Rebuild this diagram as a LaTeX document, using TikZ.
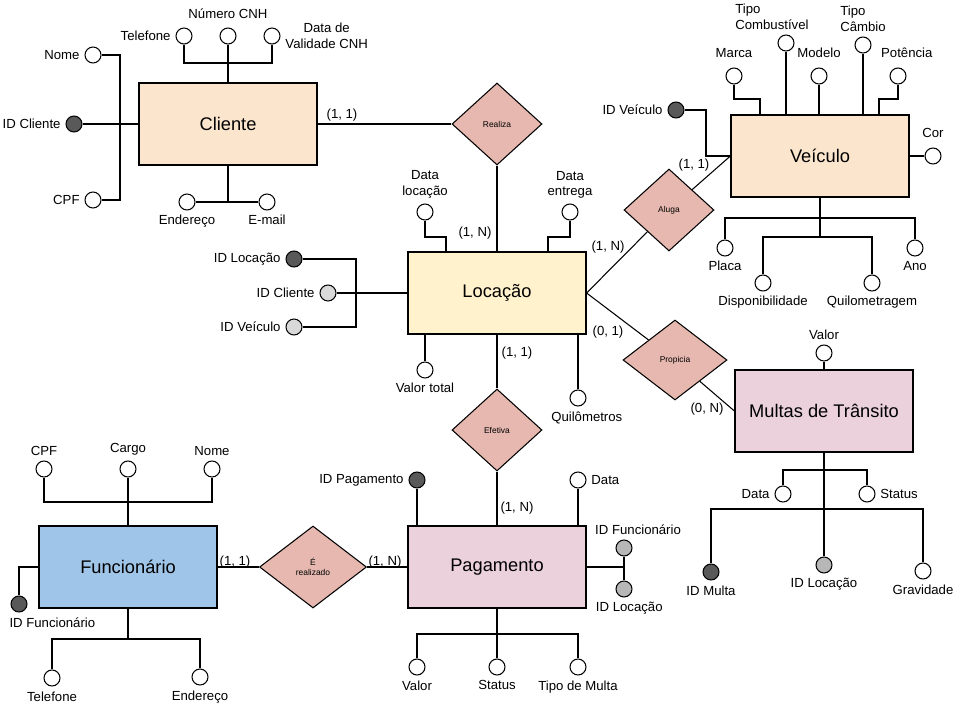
\documentclass[tikz,border=0pt]{standalone}
\usepackage{fontspec}
\setmainfont{Liberation Sans}
\usetikzlibrary{shapes.geometric,calc}

\definecolor{entpeach}{HTML}{FCE5CD}
\definecolor{entyellow}{HTML}{FFF2CC}
\definecolor{entpink}{HTML}{EAD1DC}
\definecolor{entblue}{HTML}{9FC5E8}
\definecolor{relrose}{HTML}{E6B8AF}
\definecolor{keydark}{HTML}{595959}
\definecolor{keylight}{HTML}{D9D9D9}
\definecolor{keymid}{HTML}{B7B7B7}

\tikzset{
  entity/.style={draw, line width=0.7pt, minimum width=3.56cm, minimum height=1.64cm, inner sep=0pt, font=\fontsize{10.4}{12}\selectfont},
  relation/.style={diamond, draw, fill=relrose, minimum width=1.8cm, minimum height=1.64cm, inner sep=0pt, align=center, font=\fontsize{4.8}{5.5}\selectfont},
  attr/.style={circle, draw, fill=white, minimum size=0.32cm, inner sep=0pt},
  pkey/.style={attr, fill=keydark},
  fkey/.style={attr, fill=keylight},
  fkeymid/.style={attr, fill=keymid},
  card/.style={inner sep=0pt, font=\fontsize{7.5}{9}\selectfont},
  every label/.style={inner sep=1.5pt, align=center, font=\fontsize{7.5}{9}\selectfont},
  label distance=1pt,
}

\begin{document}
\begin{tikzpicture}[x=0.02cm, y=-0.02cm, line width=0.6pt]
	\useasboundingbox (0,0) rectangle (960,720);
	
	% Cliente
	\node[entity, fill=entpeach] (cliente) at (228,124) {Cliente};
	\node[pkey, label=left:ID Cliente] (idcli) at (74,124) {};
	\node[attr, label=left:Nome] (nomecli) at (93,55) {};
	\node[attr, label=left:CPF] (cpfcli) at (93,200) {};
	\node[attr, label=left:Telefone] (telcli) at (184,36) {};
	\node[attr, label={[yshift=2pt]above:Número CNH}] (cnhcli) at (228,36) {};
	\node[attr, label={right:Data de\\Validade CNH}] (valcli) at (272,36) {};
	\node[attr, label=below:Endereço] (endcli) at (187,202) {};
	\node[attr, label=below:E-mail] (mailcli) at (267,202) {};
	\coordinate (cli-l) at (120,124);
	\coordinate (cli-t) at (228,63);
	\draw (nomecli.east) -| (cli-l) |- (cpfcli.east);
	\draw (idcli.east) -- (cliente.west);
	\draw (telcli.south) |- (cli-t) -| (valcli.south);
	\draw (cnhcli.south) -- (cliente.north);
	\draw (cliente.south) |- (endcli.east);
	\draw (cliente.south) |- (mailcli.west);
	
	% Realiza
	\node[relation] (realiza) at (497,124) {Realiza};
	\draw (cliente.east) -- (realiza.west);
	\node[card] (card1) at (342,115) {(1, 1)};
	
	% Locacao
	\node[entity, fill=entyellow] (locacao) at (497,293) {Locação};
	\draw (realiza.south) -- (locacao.north);
	\node[card] (card2) at (475,233) {(1, N)};
	\node[attr, label={above:Data\\locação}] (dtloc) at (425,212) {};
	\node[attr, label={above:Data\\entrega}] (dtent) at (570,212) {};
	\coordinate (loc-a) at (446,237);
	\coordinate (loc-b) at (548,237);
	\draw (dtloc.south) |- (loc-a) -- (loc-a |- locacao.north);
	\draw (dtent.south) |- (loc-b) -- (loc-b |- locacao.north);
	\node[pkey, label=left:ID Locação] (idloc) at (294,259) {};
	\node[fkey, label=left:ID Cliente] (idcliloc) at (328,293) {};
	\node[fkey, label=left:ID Veículo] (idveiloc) at (294,327) {};
	\coordinate (loc-l) at (356,293);
	\draw (idloc.east) -| (loc-l) |- (idveiloc.east);
	\draw (idcliloc.east) -- (locacao.west);
	\node[attr, label=below:Valor total] (vtotal) at (425,370) {};
	\node[attr, label={[xshift=5pt]below:Quilômetros}] (quilom) at (578,398) {};
	\draw (vtotal.north) -- (vtotal.north |- locacao.south);
	\draw (quilom.north) -- (quilom.north |- locacao.south);
	
	% Veiculo
	\node[entity, fill=entpeach] (veiculo) at (820,156) {Veículo};
	\node[relation] (aluga) at (669,210) {Aluga};
	\draw (locacao.east) -- (aluga);
	\draw (aluga) -- (veiculo.west);
	\node[card] (card3) at (608,247) {(1, N)};
	\node[card] (card4) at (694,165) {(1, 1)};
	\node[pkey, label=left:ID Veículo] (idvei) at (676,110) {};
	\coordinate (vei-l) at (706,156);
	\draw (idvei.east) -| (vei-l) -- (veiculo.west);
	\node[attr, label={[yshift=3pt]above:Marca}] (marca) at (734,76) {};
	\node[attr, label={[align=left, xshift=-8pt]above:Tipo\\Combustível}] (tcomb) at (786,43) {};
	\node[attr, label={[yshift=3pt]above:Modelo}] (modelo) at (819,76) {};
	\node[attr, label={[align=left]above:Tipo\\Câmbio}] (tcamb) at (863,45) {};
	\node[attr, label={[yshift=3pt, xshift=5pt]above:Potência}] (potencia) at (898,76) {};
	\node[attr, label={[yshift=3pt]above:Cor}] (cor) at (933,156) {};
	\coordinate (vei-m) at (760,99);
	\coordinate (vei-p) at (879,99);
	\draw (marca.south) |- (vei-m) -- (vei-m |- veiculo.north);
	\draw (tcomb.south) -- (tcomb.south |- veiculo.north);
	\draw (modelo.south) -- (modelo.south |- veiculo.north);
	\draw (tcamb.south) -- (tcamb.south |- veiculo.north);
	\draw (potencia.south) |- (vei-p) -- (vei-p |- veiculo.north);
	\draw (veiculo.east) -- (cor.west);
	\node[attr, label=below:Placa] (placa) at (725,248) {};
	\node[attr, label=below:Ano] (ano) at (915,248) {};
	\node[attr, label=below:Disponibilidade] (disp) at (763,283) {};
	\node[attr, label=below:Quilometragem] (quilomet) at (872,283) {};
	\coordinate (vei-b1) at (820,218);
	\coordinate (vei-b2) at (820,237);
	\draw (veiculo.south) -- (vei-b2);
	\draw (placa.north) |- (vei-b1) -| (ano.north);
	\draw (disp.north) |- (vei-b2) -| (quilomet.north);
	
	% Multas de Transito
	\node[relation, minimum width=2.08cm, minimum height=1.6cm] (propicia) at (675,360) {Propicia};
	\node[entity, fill=entpink] (multas) at (824,411) {Multas de Trânsito};
	\draw (locacao.east) -- (propicia);
	\draw (propicia) -- (multas.west);
	\node[card] (card5) at (608,332) {(0, 1)};
	\node[card] (card6) at (707,409) {(0, N)};
	\node[attr, label=above:Valor] (valormu) at (824,353) {};
	\draw (valormu.south) -- (multas.north);
	\node[attr, label=left:Data] (datamu) at (783,494) {};
	\node[attr, label=right:Status] (statmu) at (867,494) {};
	\node[pkey, label=below:ID Multa] (idmulta) at (711,572) {};
	\node[fkeymid, label=below:ID Locação] (idlocmu) at (824,565) {};
	\node[attr, label=below:Gravidade] (grav) at (923,571) {};
	\coordinate (mu-b1) at (824,470);
	\coordinate (mu-b2) at (824,509);
	\draw (datamu.north) |- (mu-b1) -| (statmu.north);
	\draw (idmulta.north) |- (mu-b2) -| (grav.north);
	\draw (multas.south) -- (idlocmu.north);
	
	% Pagamento
	\node[relation] (efetiva) at (497,430) {Efetiva};
	\node[entity, fill=entpink] (pagamento) at (497,567) {Pagamento};
	\draw (locacao.south) -- (efetiva.north);
	\draw (efetiva.south) -- (pagamento.north);
	\node[card] (card7) at (517,353) {(1, 1)};
	\node[card] (card8) at (517,508) {(1, N)};
	\node[pkey, label=left:ID Pagamento] (idpag) at (417,480) {};
	\node[attr, label=right:Data] (datapag) at (578,480) {};
	\draw (idpag.south) -- (idpag.south |- pagamento.north);
	\draw (datapag.south) -- (datapag.south |- pagamento.north);
	\node[fkeymid, label={[xshift=8pt]above:ID Funcionário}] (idfuncpag) at (624,548) {};
	\node[fkeymid, label={[xshift=3pt]below:ID Locação}] (idlocpag) at (624,589) {};
	\draw (idfuncpag.south) -- (idlocpag.north);
	\draw (pagamento.east) -- (pagamento.east -| idfuncpag);
	\node[attr, label=below:Valor] (valorpag) at (417,667) {};
	\node[attr, label=below:Status] (statpag) at (497,667) {};
	\node[attr, label=below:Tipo de Multa] (tipopag) at (578,667) {};
	\coordinate (pag-b) at (497,634);
	\draw (valorpag.north) |- (pag-b) -| (tipopag.north);
	\draw (pagamento.south) -- (statpag.north);
	
	% Funcionario
	\node[entity, fill=entblue] (funcionario) at (128,567) {Funcionário};
	\node[relation, minimum width=2.14cm] (erealizado) at (313,567) {É\\realizado};
	\draw (funcionario.east) -- (erealizado.west);
	\draw (erealizado.east) -- (pagamento.west);
	\node[card] (card9) at (235,562) {(1, 1)};
	\node[card] (card10) at (385,562) {(1, N)};
	\node[attr, label=above:CPF] (cpffu) at (44,469) {};
	\node[attr, label=above:Cargo] (cargofu) at (128,469) {};
	\node[attr, label=above:Nome] (nomefu) at (212,469) {};
	\coordinate (fu-t) at (128,502);
	\draw (cpffu.south) |- (fu-t) -| (nomefu.south);
	\draw (cargofu.south) -- (funcionario.north);
	\node[pkey, label={[xshift=19pt]below:ID Funcionário}] (idfunc) at (19,604) {};
	\draw (funcionario.west) -| (idfunc.north);
	\node[attr, label=below:Telefone] (telfu) at (52,678) {};
	\node[attr, label=below:Endereço] (endfu) at (200,677) {};
	\coordinate (fu-b) at (128,639);
	\draw (funcionario.south) -- (fu-b);
	\draw (telfu.north) |- (fu-b) -| (endfu.north);
	
\end{tikzpicture}
\end{document}
